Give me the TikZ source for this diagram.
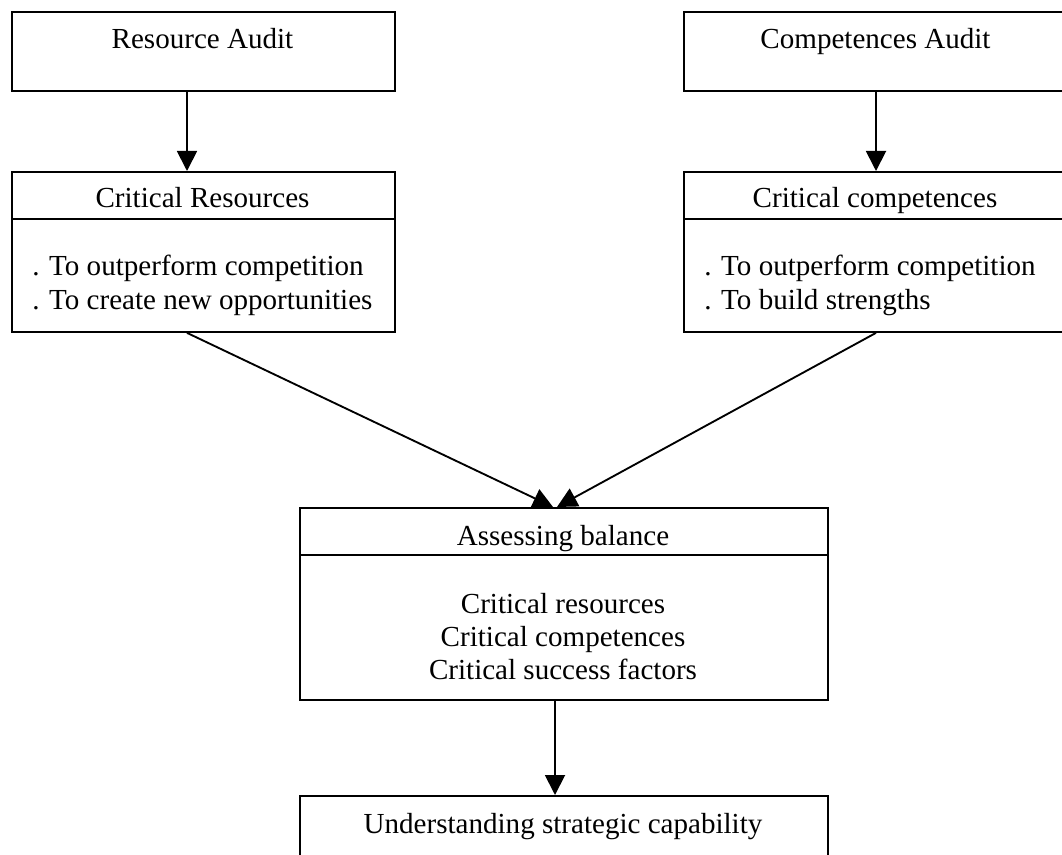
\documentclass[tikz,border=0pt]{standalone}
\usepackage{fontspec}
\setmainfont{Liberation Serif}
\usetikzlibrary{arrows.meta}
\begin{document}
\begin{tikzpicture}[x=0.75pt,y=-0.75pt,
  box/.style={draw, line width=1.4pt, inner sep=0pt, anchor=north west},
  lbl/.style={font=\fontsize{21.8pt}{24.75pt}\selectfont, inner sep=0pt},
  rule/.style={line width=1.4pt},
  arr/.style={line width=1.4pt, -{Triangle[length=15pt,width=15pt]}}]
  \useasboundingbox (0,0) rectangle (1062,855);

  % boxes
  \node[box, minimum width=287.25pt, minimum height=59.25pt] (ra) at (11,11) {};
  \node[box, minimum width=290.25pt, minimum height=59.25pt] (ca) at (683,11) {};
  \node[box, minimum width=287.25pt, minimum height=120pt] (cr) at (11,171) {};
  \node[box, minimum width=290.25pt, minimum height=120pt] (cc) at (683,171) {};
  \node[box, minimum width=396pt, minimum height=144pt] (ab) at (299,507) {};
  \node[box, minimum width=396pt, minimum height=60pt] (us) at (299,795) {};

  % header dividers
  \draw[rule] (cr.west |- 0,219) -- (cr.east |- 0,219);
  \draw[rule] (cc.west |- 0,219) -- (cc.east |- 0,219);
  \draw[rule] (ab.west |- 0,555) -- (ab.east |- 0,555);

  % texts
  \node[lbl, anchor=base] (tra) at (202.5,49) {Resource Audit};
  \node[lbl, anchor=base] (tca) at (875.5,49) {Competences Audit};
  \node[lbl, anchor=base] (tcr) at (202.5,208) {Critical Resources};
  \node[lbl, anchor=base west] (tcr1) at (32,276) {. To outperform competition};
  \node[lbl, anchor=base west] (tcr2) at (32,310) {. To create new opportunities};
  \node[lbl, anchor=base] (tcc) at (875,208) {Critical competences};
  \node[lbl, anchor=base west] (tcc1) at (704,276) {. To outperform competition};
  \node[lbl, anchor=base west] (tcc2) at (704,310) {. To build strengths};
  \node[lbl, anchor=base] (tab) at (563,545) {Assessing balance};
  \node[lbl, anchor=base] (tab1) at (563,613) {Critical resources};
  \node[lbl, anchor=base] (tab2) at (563,646) {Critical competences};
  \node[lbl, anchor=base] (tab3) at (563,679) {Critical success factors};
  \node[lbl, anchor=base] (tus) at (563,833) {Understanding strategic capability};

  % connector columns
  \coordinate (xa) at (187,0);
  \coordinate (xb) at (876,0);
  \coordinate (xe) at (555,0);
  \coordinate (xl) at (553,0);
  \coordinate (xr) at (557,0);

  % connectors
  \draw[arr] (ra.south -| xa) -- (cr.north -| xa);
  \draw[arr] (ca.south -| xb) -- (cc.north -| xb);
  \draw[arr] (cr.south -| xa) -- (ab.north -| xl);
  \draw[arr] (cc.south -| xb) -- (ab.north -| xr);
  \draw[arr] (ab.south -| xe) -- (us.north -| xe);
\end{tikzpicture}
\end{document}
